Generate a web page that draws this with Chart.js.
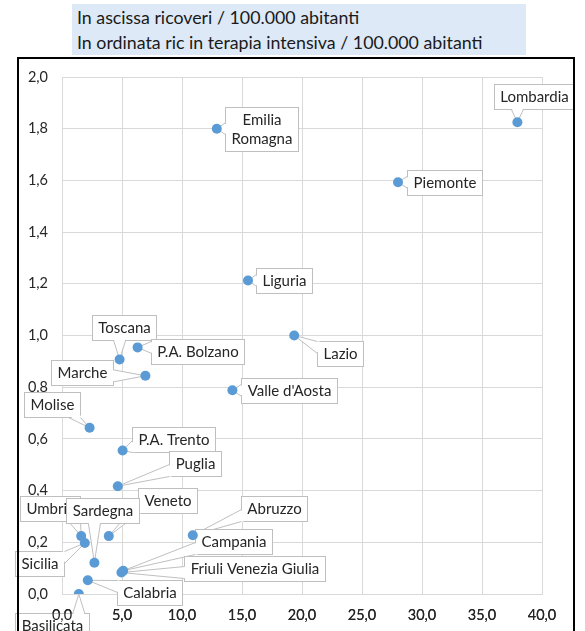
<!DOCTYPE html>
<html>
<head>
<meta charset="utf-8">
<script src="https://cdn.jsdelivr.net/npm/chart.js@4.4.1/dist/chart.umd.min.js"></script>
<style>
html, body { margin: 0; padding: 0; background: #fff; }
body { width: 585px; height: 631px; position: relative; overflow: hidden; font-family: Lato, sans-serif; }
#title {
    position: absolute; left: 72px; top: 4px; width: 454px; height: 51px;
    background: #dde9f6; color: #1a1a1a; font-size: 17.8px; line-height: 25px;
    box-sizing: border-box; padding: 1px 0 0 5px; white-space: nowrap;
}
#frame {
    position: absolute; left: 17px; top: 57px; width: 558px; height: 620px;
    border: 2px solid #000; box-sizing: border-box; pointer-events: none; z-index: 2;
}
#chart { position: absolute; left: 0; top: 0; }
</style>
</head>
<body>
<div id="title">In ascissa ricoveri / 100.000 abitanti<br>In ordinata ric in terapia intensiva / 100.000 abitanti</div>
<canvas id="chart" width="585" height="631"></canvas>
<div id="frame"></div>
<script>
// data
const regions = ['Lombardia', 'Emilia Romagna', 'Piemonte', 'Liguria', 'Lazio', 'Toscana', 'P.A. Bolzano',
    'Marche', "Valle d'Aosta", 'Molise', 'P.A. Trento', 'Puglia', 'Abruzzo', 'Veneto', 'Umbria', 'Sardegna',
    'Sicilia', 'Campania', 'Friuli Venezia Giulia', 'Calabria', 'Basilicata'];
const ricoveri = [37.95, 12.9, 28.0, 15.5, 19.35, 4.8, 6.3, 6.95, 14.2, 2.3, 5.05, 4.65, 10.9, 3.9, 1.6, 2.7,
    1.9, 5.1, 4.95, 2.15, 1.4];
const terapiaIntensiva = [1.825, 1.80, 1.593, 1.213, 1.00, 0.907, 0.954, 0.844, 0.788, 0.643, 0.555, 0.417,
    0.227, 0.224, 0.224, 0.121, 0.197, 0.09, 0.083, 0.053, 0.0];
const xTickValues = [0, 5, 10, 15, 20, 25, 30, 35, 40];
const yTickValues = [0, 0.2, 0.4, 0.6, 0.8, 1.0, 1.2, 1.4, 1.6, 1.8, 2.0];

// where each callout box sits relative to its point (px), and whether it wraps
const calloutPos = {
    'Lombardia': [17, -26],
    'Emilia Romagna': [44.5, 0, true],
    'Piemonte': [46, 0],
    'Liguria': [36, 0],
    'Lazio': [46, 18],
    'Toscana': [5, -32],
    'P.A. Bolzano': [60, 4],
    'Marche': [-63.5, -3],
    "Valle d'Aosta": [56.5, 0],
    'Molise': [-37.5, -23.5],
    'P.A. Trento': [51, -11.5],
    'Puglia': [77.5, -22.7],
    'Abruzzo': [81, -27],
    'Veneto': [59, -35.7],
    'Umbria': [-31, -28],
    'Sardegna': [8, -52.6],
    'Sicilia': [-45, 20.6],
    'Campania': [110.7, -29.7],
    'Friuli Venezia Giulia': [133, -4],
    'Calabria': [61.7, 12],
    'Basilicata': [-26.5, 31]
};

const LABEL_FONT = '15px Lato';
const fmt = v => v.toFixed(1).replace('.', ',');

function wedgeBase(px, py, l, t, r, b, hw) {
    const ox = px < l ? l - px : px > r ? px - r : 0;
    const oy = py < t ? t - py : py > b ? py - b : 0;
    if (ox >= oy) {
        const ex = px < l ? l : r;
        const inward = px < l ? 2 : -2;
        const yc = Math.min(Math.max(py, t + hw), b - hw);
        return [[ex, yc - hw], [ex, yc + hw], [inward, 0]];
    }
    const ey = py < t ? t : b;
    const inward = py < t ? 2 : -2;
    const xc = Math.min(Math.max(px, l + hw), r - hw);
    return [[xc - hw, ey], [xc + hw, ey], [0, inward]];
}

const callouts = {
    id: 'callouts',
    beforeDatasetsDraw(chart) {
        const ctx = chart.ctx;
        const meta = chart.getDatasetMeta(0);
        ctx.save();
        ctx.font = LABEL_FONT;
        ctx.lineWidth = 1;
        ctx.strokeStyle = '#bfbfbf';
        meta.data.forEach((pt, i) => {
            const name = regions[i];
            const pos = calloutPos[name] || [20, -20];
            const lines = pos[2] ? name.split(' ') : [name];
            const tw = Math.max(...lines.map(s => ctx.measureText(s).width));
            const w = tw + 12, h = lines.length * 19 + 6;
            const cx = pt.x + pos[0], cy = pt.y + pos[1];
            const l = Math.round(cx - w / 2) + 0.5, t = Math.round(cy - h / 2) + 0.5;
            const r = l + Math.round(w), b = t + Math.round(h);

            ctx.fillStyle = '#fff';
            ctx.fillRect(l, t, r - l, b - t);
            ctx.strokeRect(l, t, r - l, b - t);

            const [b1, b2, d] = wedgeBase(pt.x, pt.y, l, t, r, b, 6);
            ctx.beginPath();
            ctx.moveTo(pt.x, pt.y);
            ctx.lineTo(b1[0] + d[0], b1[1] + d[1]);
            ctx.lineTo(b2[0] + d[0], b2[1] + d[1]);
            ctx.closePath();
            ctx.fill();
            ctx.beginPath();
            ctx.moveTo(b1[0], b1[1]);
            ctx.lineTo(pt.x, pt.y);
            ctx.lineTo(b2[0], b2[1]);
            ctx.stroke();

            ctx.fillStyle = '#262626';
            ctx.textAlign = 'center';
            ctx.textBaseline = 'middle';
            lines.forEach((s, k) => {
                ctx.fillText(s, (l + r) / 2, t + 3 + 9.5 + k * 19 + 0.5);
            });
        });
        ctx.restore();
        // x tick labels sit on top of the Basilicata box in the original
        chart.scales.x.drawLabels(chart.chartArea);
    }
};

const ctx = document.getElementById('chart').getContext('2d');
new Chart(ctx, {
    type: 'scatter',
    data: {
        datasets: [{
            data: ricoveri.map((x, i) => ({ x: x, y: terapiaIntensiva[i] })),
            backgroundColor: '#5b9bd5',
            borderColor: '#5b9bd5',
            borderWidth: 0,
            pointRadius: 5
        }]
    },
    options: {
        responsive: false,
        animation: false,
        devicePixelRatio: 1,
        layout: { padding: { left: 0, top: 77, right: 43, bottom: 0 } },
        plugins: { legend: { display: false }, tooltip: { enabled: false } },
        scales: {
            x: {
                type: 'linear', min: 0, max: 40,
                afterBuildTicks: s => { s.ticks = xTickValues.map(v => ({ value: v })); },
                afterFit: s => { s.height = 37; },
                grid: { color: '#d9d9d9', drawTicks: false },
                border: { color: '#d9d9d9' },
                ticks: { padding: 13, color: '#262626', font: { family: 'Lato', size: 14.5 }, callback: fmt, maxRotation: 0 }
            },
            y: {
                min: 0, max: 2,
                afterBuildTicks: s => { s.ticks = yTickValues.map(v => ({ value: v })); },
                afterFit: s => { s.width = 62; },
                grid: { color: '#d9d9d9', drawTicks: false },
                border: { color: '#d9d9d9' },
                ticks: { padding: 14, color: '#262626', font: { family: 'Lato', size: 14.5 }, callback: fmt }
            }
        }
    },
    plugins: [callouts]
});
</script>
</body>
</html>
